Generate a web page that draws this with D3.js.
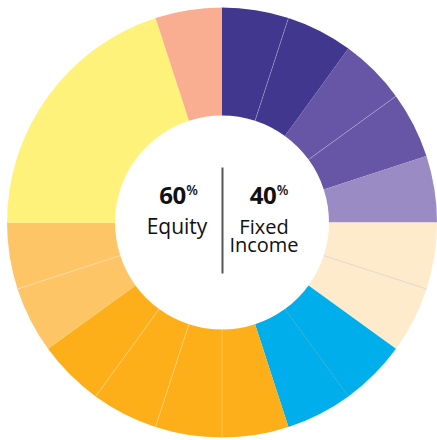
<!DOCTYPE html>
<html><head><meta charset="utf-8">
<script src="https://cdn.jsdelivr.net/npm/d3@7"></script>
<style>html,body{margin:0;padding:0;background:#fff;}svg{display:block;}</style>
</head><body>
<svg id="chart" width="437" height="440"></svg>
<script>
// slices clockwise from 12 o'clock
const categories = ["FI 1","FI 2","FI 3","FI 4","FI 5","FI 6","FI 7","FI 8","FI 9",
  "EQ 1","EQ 2","EQ 3","EQ 4","EQ 5","EQ 6","EQ 7","EQ 8"];
const values = [5,5,5,5,5,5,5,5,5, 5,5,5,5,5,5,20,5];
const colors = ["#41378f","#41378f","#6656a5","#6656a5","#9a8bc4","#feebcc","#feebcc","#00aeec","#00aeec",
  "#fcaf18","#fcaf18","#fcaf18","#fcaf18","#fdc566","#fdc566","#fff27b","#f9ad91"];
const summaryValues = [60, 40];
const summaryLabels = [["Equity"], ["Fixed","Income"]];

const svg = d3.select("#chart");
const cx = 222, cy = 222.5, rOuter = 215, rInner = 107;
const g = svg.append("g").attr("transform", `translate(${cx},${cy})`);
const data = categories.map((c,i)=>({c, v: values[i], col: colors[i]}));
const pie = d3.pie().value(d=>d.v).sort(null);
const arcs = pie(data);
const arc = d3.arc().innerRadius(rInner).outerRadius(rOuter);
g.selectAll("path").data(arcs).join("path")
  .attr("d", arc).attr("fill", d=>d.data.col);

// faint seams between neighbouring slices of the same colour
const seams = arcs.filter((d,i)=> i>0 && arcs[i-1].data.col === d.data.col);
g.selectAll("line.seam").data(seams).join("line").attr("class","seam")
  .attr("x1", d=>rInner*Math.sin(d.startAngle)).attr("y1", d=>-rInner*Math.cos(d.startAngle))
  .attr("x2", d=>rOuter*Math.sin(d.startAngle)).attr("y2", d=>-rOuter*Math.cos(d.startAngle))
  .attr("stroke", d=> d.data.col === "#feebcc" ? "#b8a4c8" : (d.data.col === "#00aeec" ? "#3f8f80" : "#ffffff"))
  .attr("stroke-opacity", d=> d.data.col === "#feebcc" ? 0.6 : 0.45)
  .attr("stroke-width", 0.6);

const font = "'Open Sans', 'Noto Sans', sans-serif";
// divider
g.append("line").attr("x1",0.5).attr("x2",0.5).attr("y1",-55).attr("y2",51)
  .attr("stroke","#555").attr("stroke-width",2);

const numX = [-43.5, 47];
const labX = [-45, 42];
summaryValues.forEach((v,i)=>{
  const t = g.append("text").attr("x", numX[i]).attr("y", -19).attr("text-anchor","middle")
    .attr("font-family", font).attr("fill","#111");
  t.append("tspan").attr("font-weight","bold").attr("font-size",24).attr("letter-spacing",-0.5).text(v);
  t.append("tspan").attr("font-size",13.5).attr("font-weight","600").attr("dx",0.5).attr("dy",-8.5).text("%");
  const lt = g.append("text").attr("text-anchor","middle")
    .attr("font-family", font).attr("fill","#111");
  summaryLabels[i].forEach((l,j)=>{
    lt.append("tspan").attr("x", labX[i]).attr("y", 11.5 + j*17.5)
      .attr("font-size", i === 0 ? 21 : 20).text(l);
  });
});
</script>
</body></html>
